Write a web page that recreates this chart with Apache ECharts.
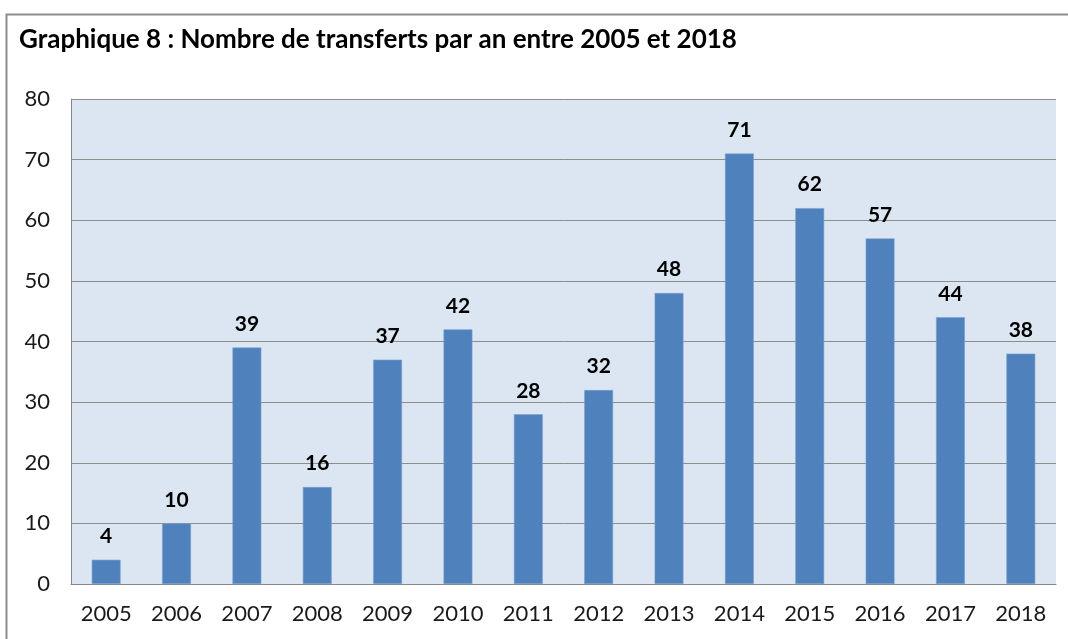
<!DOCTYPE html>
<html lang="fr">
<head>
<meta charset="UTF-8">
<title>Graphique 8</title>
<script src="https://cdn.jsdelivr.net/npm/echarts@6/dist/echarts.min.js"></script>
<style>
  html, body { margin: 0; padding: 0; background: #fff; }
  #main { width: 1068px; height: 639px; }
</style>
</head>
<body>
<div id="main"></div>
<script>
  // données
  const years = ['2005', '2006', '2007', '2008', '2009', '2010', '2011', '2012', '2013', '2014', '2015', '2016', '2017', '2018'];
  const transferts = [4, 10, 39, 16, 37, 42, 28, 32, 48, 71, 62, 57, 44, 38];
  const yTicks = [0, 10, 20, 30, 40, 50, 60, 70, 80];

  const font = 'Lato, "Open Sans", sans-serif';
  const chart = echarts.init(document.getElementById('main'));

  chart.setOption({
    animation: false,
    title: {
      text: 'Graphique 8 : Nombre de transferts par an entre 2005 et 2018',
      left: 14,
      top: 22,
      textStyle: { fontFamily: font, fontSize: 26, fontWeight: 'bold', color: '#000' }
    },
    graphic: [{
      type: 'rect',
      shape: { x: 6.5, y: 14.5, width: 1200, height: 800 },
      style: { fill: 'none', stroke: '#8c8c8c', lineWidth: 2 },
      silent: true
    }],
    grid: {
      left: 71, right: 12, top: 99, bottom: 55,
      show: true,
      backgroundColor: '#dce6f2',
      borderWidth: 0
    },
    xAxis: {
      type: 'category',
      data: years,
      axisLine: { lineStyle: { color: '#868686', width: 1 } },
      axisTick: { show: false },
      axisLabel: { fontFamily: font, fontSize: 22, color: '#1a1a1a', margin: 19 }
    },
    yAxis: {
      type: 'value',
      min: yTicks[0],
      max: yTicks[yTicks.length - 1],
      interval: 10,
      axisLine: { show: true, lineStyle: { color: '#868686', width: 1 } },
      axisTick: { show: false },
      axisLabel: { fontFamily: font, fontSize: 22, color: '#1a1a1a', margin: 21 },
      splitLine: { lineStyle: { color: '#8c8c8c', width: 1 } }
    },
    series: [{
      type: 'bar',
      data: transferts,
      barWidth: '41%',
      itemStyle: { color: '#4f81bd', borderColor: '#7aa0d0', borderWidth: 0.6 },
      label: {
        show: true,
        position: 'top',
        distance: 13,
        fontFamily: font,
        fontSize: 21,
        fontWeight: 'bold',
        color: '#000'
      }
    }]
  });
</script>
</body>
</html>
